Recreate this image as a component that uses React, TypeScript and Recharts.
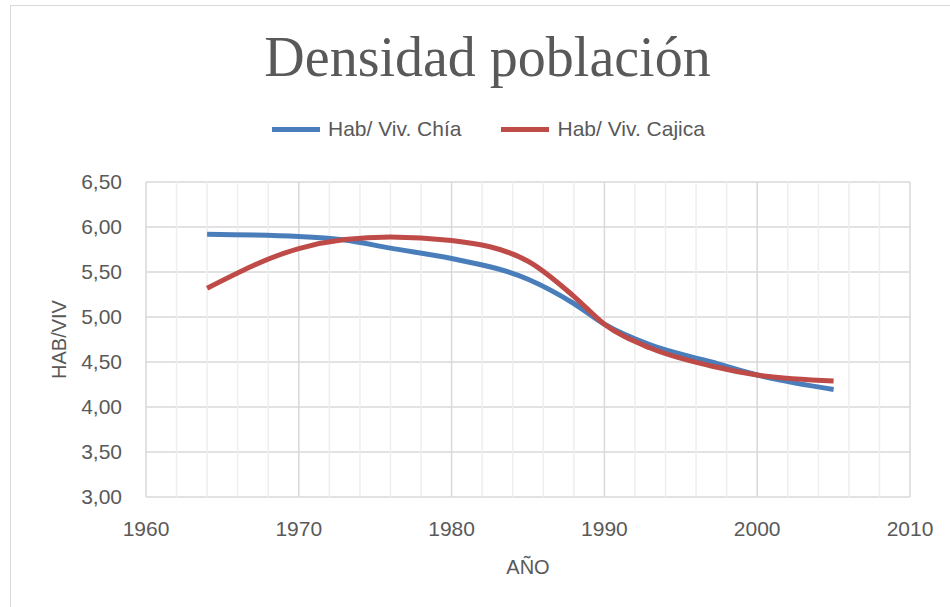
import React from "react";
import { LineChart, Line, XAxis, YAxis, CartesianGrid, ReferenceLine } from "recharts";

const YEARS = [1964, 1970, 1973, 1976, 1980, 1985, 1988, 1990, 1993, 1997, 2000, 2005];
const CHIA = [5.92, 5.895, 5.855, 5.765, 5.65, 5.42, 5.15, 4.92, 4.69, 4.5, 4.355, 4.195];
const CAJICA = [5.32, 5.76, 5.86, 5.89, 5.85, 5.62, 5.23, 4.92, 4.655, 4.455, 4.355, 4.29];
const X_TICKS = [1960, 1970, 1980, 1990, 2000, 2010];
const MINOR_X = [1962, 1964, 1966, 1968, 1972, 1974, 1976, 1978, 1982, 1984, 1986, 1988, 1992, 1994, 1996, 1998, 2002, 2004, 2006, 2008];
const Y_TICKS = [3, 3.5, 4, 4.5, 5, 5.5, 6, 6.5];
const SERIES_NAMES = ["Hab/ Viv. Chía", "Hab/ Viv. Cajica"];
const COLORS = ["#4A7EBB", "#BE4B48"];

const data = YEARS.map((y, i) => ({ year: y, chia: CHIA[i], cajica: CAJICA[i] }));

const fmt = (v: number) => v.toFixed(2).replace(".", ",");
const FONT = "'Liberation Sans', Arial, sans-serif";

const LegendContent = () => (
  <div style={{ display: "flex", alignItems: "center", fontFamily: FONT, fontSize: 21, color: "#595959", lineHeight: "26px" }}>
    {SERIES_NAMES.map((n, i) => (
      <div key={n} style={{ display: "flex", alignItems: "center", marginRight: i === 0 ? 40 : 0 }}>
        <div style={{ width: 48, height: 5, background: COLORS[i], marginRight: 8 }} />
        <span>{n}</span>
      </div>
    ))}
  </div>
);

export default function App() {
  return (
    <div style={{ position: "relative", width: 950, height: 607, overflow: "hidden", background: "#fff" }}>
      <style>{"body{margin:0}"}</style>
      <div style={{ position: "absolute", left: 10, top: 5, width: 960, height: 620, border: "1px solid #D9D9D9" }} />
      <div
        style={{
          position: "absolute",
          top: 22,
          left: 0,
          width: 975,
          textAlign: "center",
          fontFamily: "'Liberation Serif', 'Times New Roman', serif",
          fontSize: 56,
          color: "#595959",
          lineHeight: "70px",
        }}
      >
        Densidad población
      </div>
      <div style={{ position: "absolute", top: 116, left: 272 }}>
        <LegendContent />
      </div>
      <div style={{ position: "absolute", top: 0, left: 0 }}>
        <LineChart width={950} height={607} data={data} margin={{ top: 182, right: 40, bottom: 80, left: 0 }}>
          {MINOR_X.map((x) => (
            <ReferenceLine key={"m" + x} x={x} stroke="#EEEEEE" strokeWidth={1.5} />
          ))}
          <CartesianGrid vertical={false} stroke="#D9D9D9" strokeWidth={1.5} />
          {X_TICKS.map((x) => (
            <ReferenceLine key={"M" + x} x={x} stroke="#D9D9D9" strokeWidth={1.5} />
          ))}
          <XAxis
            dataKey="year"
            type="number"
            domain={[1960, 2010]}
            ticks={X_TICKS}
            axisLine={false}
            tickLine={false}
            tickSize={0}
            tickMargin={24}
            height={30}
            tick={{ fill: "#595959", fontSize: 21, fontFamily: FONT }}
            label={(p: any) => {
              const vb = p.viewBox || {};
              return (
                <text x={vb.x + vb.width / 2} y={574} textAnchor="middle" fill="#595959" fontSize={20} fontFamily={FONT}>
                  AÑO
                </text>
              );
            }}
          />
          <YAxis
            type="number"
            domain={[3, 6.5]}
            ticks={Y_TICKS}
            width={146}
            axisLine={false}
            tickLine={false}
            tickSize={0}
            tickMargin={24}
            tickFormatter={fmt}
            tick={{ fill: "#595959", fontSize: 21, fontFamily: FONT }}
            label={(p: any) => {
              const vb = p.viewBox || {};
              const cy = vb.y + vb.height / 2;
              return (
                <text x={59} y={cy} transform={`rotate(-90 59 ${cy})`} textAnchor="middle" dominantBaseline="central" fill="#595959" fontSize={20} fontFamily={FONT}>
                  HAB/VIV
                </text>
              );
            }}
          />
          <Line dataKey="chia" name={SERIES_NAMES[0]} type="monotone" stroke={COLORS[0]} strokeWidth={5} dot={false} isAnimationActive={false} />
          <Line dataKey="cajica" name={SERIES_NAMES[1]} type="monotone" stroke={COLORS[1]} strokeWidth={5} dot={false} isAnimationActive={false} />
        </LineChart>
      </div>
    </div>
  );
}
